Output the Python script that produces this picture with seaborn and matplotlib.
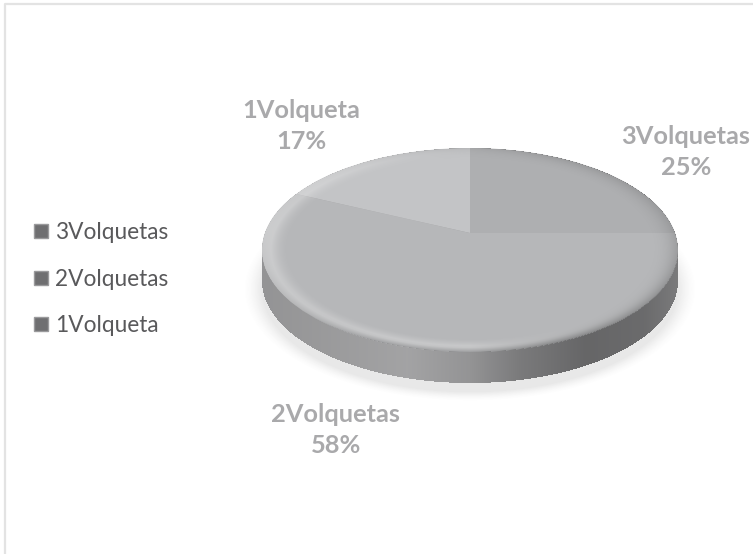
import numpy as np
import matplotlib
matplotlib.use("Agg")
import matplotlib.pyplot as plt
import seaborn as sns
from matplotlib.lines import Line2D
from matplotlib.patches import Ellipse

categories = ["3Volquetas", "2Volquetas", "1Volqueta"]
shares = [25, 58, 17]
colors = ["#aeafb1", "#b6b7b9", "#c3c4c6"]
label_text = ["3Volquetas\n25%", "2Volquetas\n58%", "1Volqueta\n17%"]

W, H = 753, 554
sns.set_theme(style="white")
plt.rcParams["font.family"] = ["Lato", "DejaVu Sans"]

fig = plt.figure(figsize=(W / 100, H / 100), dpi=100, facecolor="white")
ax = fig.add_axes([0, 0, 1, 1])
ax.set_xlim(0, W)
ax.set_ylim(H, 0)
ax.axis("off")

# geometry in pixels
cx, cy, rx, ry = 470.0, 250.0, 208.0, 102.0
depth = 31.0
ax_, ay_ = 470.0, 233.0

X, Y = np.meshgrid(np.arange(W) + 0.5, np.arange(H) + 0.5)
ext = (0, W, H, 0)

# soft shadow
rs = np.sqrt(((X - cx) / (rx + 4)) ** 2 + ((Y - (cy + depth + 8)) / (ry + 3)) ** 2)
sh = np.clip((1.07 - rs) / 0.09, 0, 1) ** 1.5 * 0.16
img = np.zeros((H, W, 4))
img[..., :3] = 0.45
img[..., 3] = sh
ax.imshow(img, extent=ext, zorder=1, aspect="auto")

# side wall
u = (X - (cx - rx)) / (2 * rx)
stops_x = [0.0, 0.12, 0.35, 0.50, 0.62, 0.78, 0.92, 1.0]
stops_v = [0.58, 0.60, 0.64, 0.58, 0.48, 0.40, 0.42, 0.48]
v = np.interp(u, stops_x, stops_v)
img = np.zeros((H, W, 4))
for i in range(3):
    img[..., i] = v + (0.005 if i == 2 else 0)
inside_low = ((X - cx) / rx) ** 2 + ((Y - (cy + depth)) / ry) ** 2 <= 1
inside_top = ((X - cx) / rx) ** 2 + ((Y - cy) / ry) ** 2 <= 1
between = (np.abs(X - cx) <= rx) & (Y >= cy) & (Y <= cy + depth)
img[..., 3] = (inside_low | inside_top | between).astype(float)
ax.imshow(img, extent=ext, zorder=2, aspect="auto", interpolation="bilinear")
ax.set_xlim(0, W)
ax.set_ylim(H, 0)

# slices: real pie wedges, scaled to the perspective ellipse and clipped to the top face
pie_ax = fig.add_axes([0, 0, 1, 1], zorder=3)
wedges, _ = pie_ax.pie(shares, colors=colors, startangle=90, counterclock=False, radius=4,
                       center=(0, 0), wedgeprops=dict(linewidth=0))
pie_ax.set_aspect("auto")
pie_ax.set_xlim(-ax_ / rx, (W - ax_) / rx)
ry_up = 85.0
pie_ax.set_ylim((ay_ - H) / ry_up, ay_ / ry_up)
pie_ax.patch.set_alpha(0)
pie_ax.axis("off")
clip_e = Ellipse((cx, cy), 2 * rx, 2 * ry, transform=ax.transData)
for w in wedges:
    w.set_clip_on(True)
    w.set_clip_path(clip_e)

# bevel on the rim of the top face
ax2 = fig.add_axes([0, 0, 1, 1], zorder=4)
r = np.sqrt(((X - cx) / rx) ** 2 + ((Y - cy) / ry) ** 2)
th = np.arctan2(Y - cy, X - cx)  # + is downward on screen
s = np.clip((r - 0.87) / 0.13, 0, 1)
sinth = np.sin(th)
lower = np.clip((sinth + 0.1) / 0.8, 0, 1)
left = np.clip(-np.cos(th), 0, 1)
right = np.clip(np.cos(th), 0, 1)
# light band that fades in softly, then falls to a darker outer edge
band = np.clip(s * 1.9, 0, 1) ** 1.5 * np.clip((1 - s) * 3.0, 0, 1)
light = band * 0.32 * lower * (1 - 0.75 * right)
dark = s ** 2.2 * (0.5 * lower * (0.4 + 0.6 * right) + 0.18 * right * (1 - lower))
leftedge = np.clip(s * 1.5, 0, 1) ** 2 * left ** 2 * 0.38 * (1 - lower)
upper_dark = s ** 3 * np.clip(-sinth, 0, 1) * 0.12
total = light + dark + leftedge + upper_dark
img = np.zeros((H, W, 4))
val = (light * 1.0 + leftedge * 0.95 + dark * 0.25 + upper_dark * 0.4) / np.maximum(total, 1e-4)
img[..., :3] = val[..., None]
img[..., 3] = np.where(r <= 1, np.clip(total, 0, 0.8), 0)
ax2.imshow(img, extent=ext, aspect="auto", interpolation="bilinear")
ax2.set_xlim(0, W)
ax2.set_ylim(H, 0)
ax2.axis("off")

# outer frame
ax2.plot([5.5, 5.5, W + 5], [H + 5, 3.5, 3.5], color="#e3e3e3", lw=1.6, clip_on=False)

# data labels
label_xy = [(686, 152), (336, 430), (301, 126)]
for txt, (lx, ly) in zip(label_text, label_xy):
    ax2.text(lx, ly, txt, ha="center", va="center", fontsize=18.3, fontweight="bold",
             color="#a9a9ab", linespacing=1.42)

# legend
handles = [Line2D([], [], marker="s", ls="none", ms=9.5, mfc="#6f6f71", mec="#9a9a9c", mew=1) for _ in categories]
leg = ax2.legend(handles, categories, loc="upper left", bbox_to_anchor=(34.5 / W, 1 - 222 / H),
                 bbox_transform=fig.transFigure, frameon=False, fontsize=16.3, labelcolor="#59595b",
                 handlelength=0.6, handletextpad=0.3, labelspacing=1.13, borderpad=0, borderaxespad=0)
fig.savefig("out.png", dpi=100, facecolor="white")
